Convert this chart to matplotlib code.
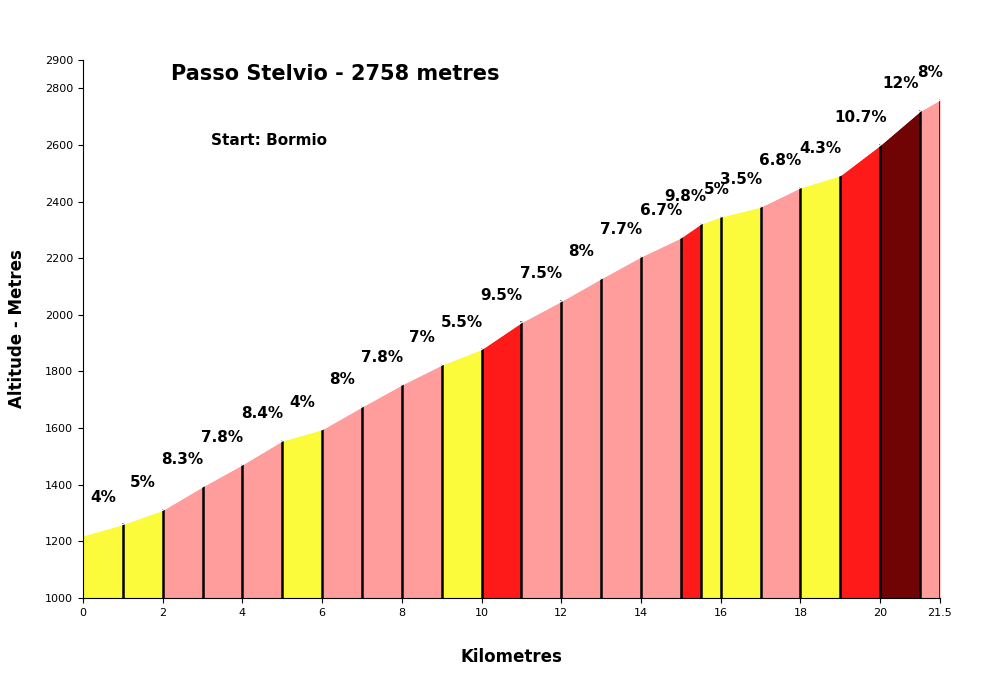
import numpy as np
import matplotlib.pyplot as plt

km_marks = [0, 1, 2, 3, 4, 5, 6, 7, 8, 9, 10, 11, 12, 13, 14, 15, 15.5, 16, 17, 18, 19, 20, 21, 21.5]
gradients = [4, 5, 8.3, 7.8, 8.4, 4, 8, 7.8, 7, 5.5, 9.5, 7.5, 8, 7.7, 6.7, 9.8, 5, 3.5, 6.8, 4.3, 10.7, 12, 8]
grad_labels = ['4%', '5%', '8.3%', '7.8%', '8.4%', '4%', '8%', '7.8%', '7%', '5.5%', '9.5%', '7.5%', '8%',
               '7.7%', '6.7%', '9.8%', '5%', '3.5%', '6.8%', '4.3%', '10.7%', '12%', '8%']
label_shift = {15: -0.15, 16: 0.15}  # keep the two short segments apart
start_alt = 1220
x_ticks = [0, 2, 4, 6, 8, 10, 12, 14, 16, 18, 20, 21.5]
x_ticklabels = ['0', '2', '4', '6', '8', '10', '12', '14', '16', '18', '20', '21.5']
y_ticks = [1000, 1200, 1400, 1600, 1800, 2000, 2200, 2400, 2600, 2800, 2900]


def seg_color(g):
    if g <= 5.5:
        return '#fbfb3c'
    if g < 9.5:
        return '#ff9d9d'
    if g < 11:
        return '#ff1a1a'
    return '#700303'


def altitudes():
    alts = [start_alt]
    for i, g in enumerate(gradients):
        alts.append(alts[-1] + g * 10 * (km_marks[i + 1] - km_marks[i]))
    return alts


def profile_graph():
    fig = plt.figure(figsize=(10.01, 6.78), dpi=100)
    ax = fig.add_axes([83 / 1001, 80 / 678, 857 / 1001, 538 / 678])
    return fig, ax


if __name__ == "__main__":
    fig, ax = profile_graph()
    alts = altitudes()

    for i, g in enumerate(gradients):
        x0, x1 = km_marks[i], km_marks[i + 1]
        ax.fill_between([x0, x1], 1000, [alts[i], alts[i + 1]], color=seg_color(g), linewidth=0)
        ax.plot([x1, x1], [1000, alts[i + 1]], color='black', lw=1.8)  # segment divider
        ax.text((x0 + x1) / 2 + label_shift.get(i, 0), max(alts[i], alts[i + 1]) + 70, grad_labels[i],
                ha='center', va='bottom', fontsize=11, fontweight='bold')
    ax.plot(km_marks, alts, color='white', lw=1)

    ax.text(2.2, 2830, 'Passo Stelvio - 2758 metres', fontsize=15, fontweight='bold')
    ax.text(3.2, 2600, 'Start: Bormio', fontsize=11, fontweight='bold')

    ax.set_xlim(0, 21.5)
    ax.set_ylim(1000, 2900)
    ax.set_xticks(x_ticks)
    ax.set_xticklabels(x_ticklabels, fontsize=8)
    ax.set_yticks(y_ticks)
    ax.set_yticklabels([str(v) for v in y_ticks], fontsize=8)
    ax.spines['top'].set_visible(False)
    ax.spines['right'].set_visible(False)
    ax.set_xlabel('Kilometres', fontsize=12, fontweight='bold', labelpad=22)
    ax.set_ylabel('Altitude - Metres', fontsize=12, fontweight='bold', labelpad=14)

    fig.savefig('out.png', dpi=100)
